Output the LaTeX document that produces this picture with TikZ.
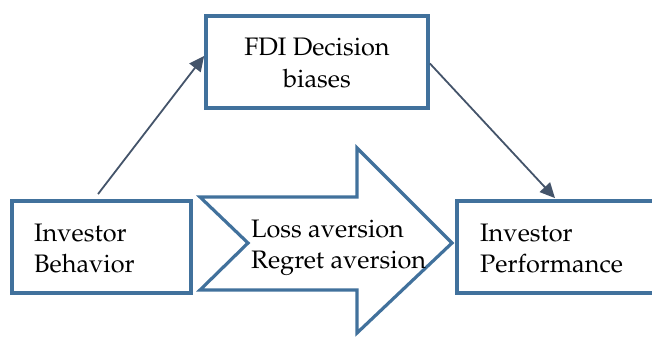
\documentclass[tikz,border=0pt]{standalone}
\usepackage[T1]{fontenc}
\usepackage{mathpazo}
\usetikzlibrary{arrows.meta}
\definecolor{boxblue}{HTML}{41719C}
\definecolor{slate}{HTML}{44546A}
\tikzset{
  box/.style={draw=boxblue, line width=3.8pt, fill=white, inner sep=0pt},
  lbl/.style={anchor=base west, inner sep=0pt, font=\fontsize{25.3}{32}\selectfont},
  clbl/.style={anchor=base, inner sep=0pt, font=\fontsize{25.3}{32}\selectfont},
  conn/.style={draw=slate, line width=1.8pt, -{Triangle[length=15pt,width=14pt]}},
  bigarrow/.style={draw=boxblue, line width=3.2pt, fill=white, line join=miter}
}
\begin{document}
\begin{tikzpicture}[x=1pt,y=-1pt]
\useasboundingbox (0,0) rectangle (652,337);
\clip (0,0) rectangle (652,337);
% boxes
\node[box, minimum width=222pt, minimum height=92pt] (fdi) at (317,62) {};
\node[box, minimum width=179pt, minimum height=92pt] (beh) at (101.5,247) {};
\node[box, minimum width=205pt, minimum height=92pt] (perf) at (559.5,247) {};
% big arrow
\draw[bigarrow] (200,197) -- (357,197) -- (357,148) -- (452,243) -- (357,333) -- (357,290) -- (200,290) -- (248,243) -- cycle;
% texts
\node[clbl] (t1) at (317,56) {FDI Decision};
\node[clbl] (t2) at (317,87) {biases};
\node[lbl] (t3) at (34,241) {Investor};
\node[lbl] (t4) at (34,272) {Behavior};
\node[lbl] (t5) at (251,237) {Loss aversion};
\node[lbl] (t6) at (251,268) {Regret aversion};
\node[lbl] (t7) at (480,241) {Investor};
\node[lbl] (t8) at (480,272) {Performance};
% connectors
\draw[conn] ([xshift=-3.5pt,yshift=5pt]beh.north) -- ([yshift=6pt]fdi.west);
\draw[conn] ([yshift=-1.5pt]fdi.east) -- ([xshift=-4.5pt,yshift=1pt]perf.north);
\end{tikzpicture}
\end{document}
